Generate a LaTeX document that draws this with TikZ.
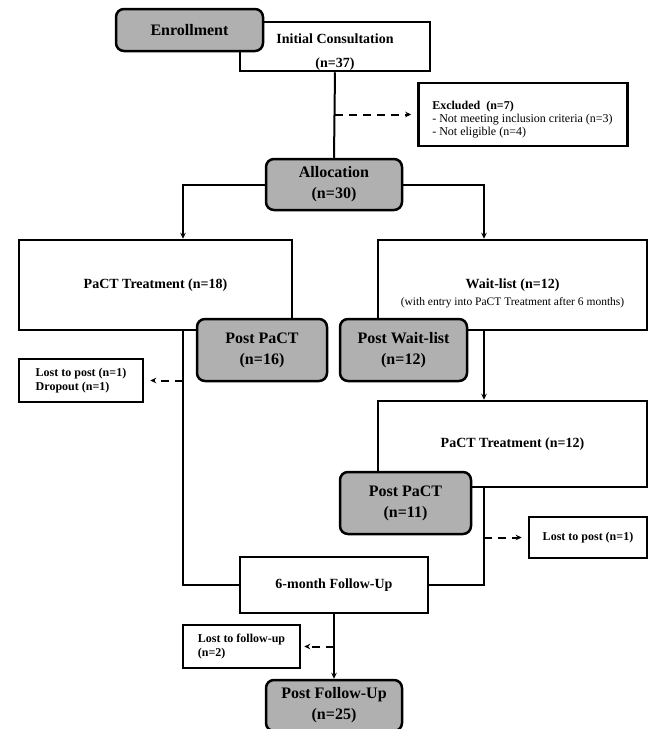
\documentclass[tikz,border=0pt]{standalone}
\usepackage{fontspec}
\setmainfont{Liberation Serif}
\usetikzlibrary{arrows.meta,calc}
\definecolor{greyfill}{RGB}{176,176,176}
\begin{document}
\begin{tikzpicture}[x=1pt,y=-1pt,
 box/.style={draw=black,line width=2.5pt,fill=white,rectangle,inner sep=0pt,align=center,font=\bfseries\fontsize{14}{18}\selectfont},
 gbox/.style={draw=black,line width=2.5pt,fill=greyfill,rounded corners=8pt,inner sep=0pt,align=center,font=\bfseries\fontsize{16}{21}\selectfont},
 sbox/.style={draw=black,line width=2.5pt,fill=white,rectangle,inner sep=0pt,align=left,font=\bfseries\fontsize{12}{14}\selectfont},
 txt/.style={inner sep=0pt,align=center,font=\bfseries\fontsize{14}{17}\selectfont},
 conn/.style={line width=2pt},
 arr/.style={conn,-{Stealth[length=6pt,width=5.5pt]}},
 darr/.style={arr,dash pattern=on 8pt off 6pt,shorten >=6pt},
]
\useasboundingbox (0,0) rectangle (649,729);
% branch x positions
\coordinate (L) at (183,0);
\coordinate (R) at (484,0);
% white boxes
\node[box,minimum width=190pt,minimum height=49pt] (ic) at (335,46.5) {};
\node[txt,font=\bfseries\fontsize{14}{24}\selectfont] (ictxt) at (335,52) {Initial Consultation\\(n=37)};
\node[sbox,minimum width=209pt,minimum height=63pt] (excl) at (523,114.5) {};
\node[txt,align=left,font=\bfseries\fontsize{12}{13}\selectfont] (excltxt) at (522.5,120) {Excluded\ \ (n=7)\\{\mdseries - Not meeting inclusion criteria (n=3)}\\{\mdseries - Not eligible (n=4)}};
\node[box,minimum width=273pt,minimum height=90pt] (pact1) at (155.5,285) {PaCT Treatment (n=18)};
\node[box,minimum width=269pt,minimum height=90pt] (wait) at (512.5,285) {};
\node[txt] (waittxt) at (512.5,293) {Wait-list (n=12)\\{\mdseries\fontsize{11.5}{14}\selectfont (with entry into PaCT Treatment after 6 months)}};
\node[sbox,minimum width=124pt,minimum height=43pt] (lost1) at (81,380.5) {Lost to post (n=1)\\Dropout (n=1)};
\node[box,minimum width=269pt,minimum height=86pt] (pact2) at (512.5,444) {PaCT Treatment (n=12)};
\node[sbox,minimum width=118pt,minimum height=41pt] (lost2) at (588,537.5) {Lost to post (n=1)};
\node[box,minimum width=188pt,minimum height=56pt] (fu) at (334,585) {6-month Follow-Up};
\node[sbox,minimum width=117pt,minimum height=43pt] (lost3) at (241.5,646.5) {Lost to follow-up\\(n=2)};
% grey boxes
\node[gbox,minimum width=147pt,minimum height=42pt] (enr) at (189.5,30) {Enrollment};
\node[gbox,minimum width=136pt,minimum height=51pt] (alloc) at (334,184.5) {Allocation\\(n=30)};
\node[gbox,minimum width=130pt,minimum height=62pt] (pp1) at (262,350) {Post PaCT\\(n=16)};
\node[gbox,minimum width=127pt,minimum height=62pt] (pw) at (403.5,350) {Post Wait-list\\(n=12)};
\node[gbox,minimum width=131pt,minimum height=62pt] (pp2) at (405.5,503) {Post PaCT\\(n=11)};
\node[gbox,minimum width=136pt,minimum height=51pt] (pfu) at (334,705.5) {Post Follow-Up\\(n=25)};
% connectors
\draw[conn] (ic.south) -- (alloc.north);
\draw[darr] (ic.south |- excl.west) -- (excl.west);
\draw[arr] (alloc.west) -| (L |- pact1.north);
\draw[arr] (alloc.east) -| (R |- wait.north);
\draw[conn] (L |- pact1.south) |- (fu.west);
\draw[darr] (L |- lost1.east) -- (lost1.east);
\draw[arr] (R |- wait.south) -- (R |- pact2.north);
\draw[conn] (R |- pact2.south) |- (fu.east);
\draw[darr] (R |- lost2.west) -- (lost2.west);
\draw[arr] (fu.south) -- (pfu.north);
\draw[darr,shorten >=3pt] (fu.south |- lost3.east) -- (lost3.east);
\end{tikzpicture}
\end{document}
